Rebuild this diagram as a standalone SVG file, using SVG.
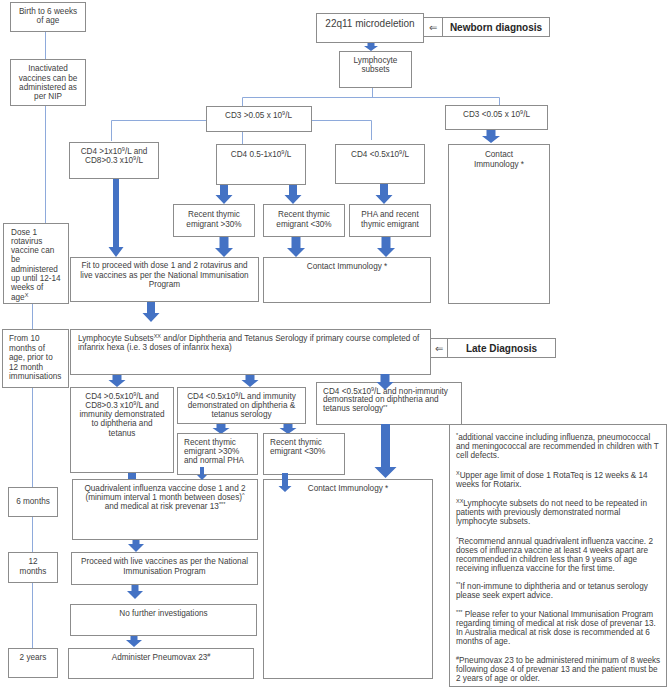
<svg xmlns="http://www.w3.org/2000/svg" width="670" height="688" viewBox="0 0 670 688">
<style>
.box{fill:#fff;stroke:#8c8c8c;stroke-width:1}
.t{font-family:"Liberation Sans",Arial,sans-serif;font-size:8.2px;fill:#404040}
.c{text-anchor:middle}
.h{font-size:10px}
.b{font-weight:bold;fill:#262626}
.ln{stroke:#8eaadb;stroke-width:1;fill:none}
.ar{fill:#4472c4}
.s{font-size:5.5px}
</style>
<rect width="670" height="688" fill="#fff"/>

<g id="connectors">
<path class="ln" d="M45.5,31V59M45.5,105V223M32.5,304V329M32.5,388V487M32.5,516V552M32.5,582V648"/>
<path class="ln" d="M372.5,87V97.5M242.5,97.5H499.5M242.5,97.5V106M499.5,97.5V105"/>
<path class="ln" d="M206,120.5H111.5V141M311,120.5H371.5V140M242.5,131V144"/>
<polygon class="ar" points="367.5,42 374.5,42 374.5,46 378,46 371,51 364,46 367.5,46"/>
<polygon class="ar" points="486.5,129 495.5,129 495.5,136 500,136 491,143 482,136 486.5,136"/>
<polygon class="ar" points="220,184 228,184 228,195 232.5,195 224,204 215.5,195 220,195"/>
<polygon class="ar" points="289,184 297,184 297,195 301.5,195 293,204 284.5,195 289,195"/>
<polygon class="ar" points="380,183 388,183 388,195 392.5,195 384,204 375.5,195 380,195"/>
<polygon class="ar" points="113,178 119,178 119,247 123.5,247 116,257 108.5,247 113,247"/>
<polygon class="ar" points="219.5,236 228.5,236 228.5,248 233,248 224,257 215,248 219.5,248"/>
<polygon class="ar" points="291.5,236 300.5,236 300.5,248 305,248 296,257 287,248 291.5,248"/>
<polygon class="ar" points="381.5,236 390.5,236 390.5,248 395,248 386,257 377,248 381.5,248"/>
<polygon class="ar" points="147,301 155,301 155,313 159.5,313 151,322 142.5,313 147,313"/>
<polygon class="ar" points="112.5,374 121.5,374 121.5,380 125.5,380 117,387 108.5,380 112.5,380"/>
<polygon class="ar" points="245.5,374 254.5,374 254.5,380 258.5,380 250,387 241.5,380 245.5,380"/>
<polygon class="ar" points="216.5,423 225.5,423 225.5,428 229.5,428 221,434 212.5,428 216.5,428"/>
<polygon class="ar" points="283.5,423 292.5,423 292.5,428 296.5,428 288,434 279.5,428 283.5,428"/>
<polygon class="ar" points="128,472 136,472 136,479 140.5,479 132,486 123.5,479 128,479"/>
<polygon class="ar" points="132.5,539 139.5,539 139.5,544 144,544 136,552 128,544 132.5,544"/>
<polygon class="ar" points="131.5,584 138.5,584 138.5,591 143,591 135,599 127,591 131.5,591"/>
<polygon class="ar" points="130.5,635 137.5,635 137.5,640 142,640 134,647 126,640 130.5,640"/>
</g>

<g id="birth"><rect class="box" x="10.5" y="2.5" width="75" height="29"/>
<text class="t c" x="48" y="13.5">Birth to 6 weeks</text><text class="t c" x="48" y="23">of age</text></g>

<g id="inactivated"><rect class="box" x="10.5" y="59.5" width="75" height="46"/>
<text class="t c" x="48" y="71">Inactivated</text><text class="t c" x="48" y="80.5">vaccines can be</text><text class="t c" x="48" y="89.5">administered as</text><text class="t c" x="48" y="98.5">per NIP</text></g>

<g id="dose1"><rect class="box" x="3.5" y="223.5" width="65" height="80"/>
<text class="t" x="11" y="234.5">Dose 1</text><text class="t" x="11" y="243.5">rotavirus</text><text class="t" x="11" y="253">vaccine can</text><text class="t" x="11" y="262">be</text><text class="t" x="11" y="271.5">administered</text><text class="t" x="11" y="281">up until 12-14</text><text class="t" x="11" y="290">weeks of</text><text class="t" x="11" y="299.5">age<tspan class="s" baseline-shift="super">X</tspan></text></g>

<g id="from10"><rect class="box" x="2.5" y="329.5" width="66" height="58"/>
<text class="t" x="9" y="341">From 10</text><text class="t" x="9" y="350.5">months of</text><text class="t" x="9" y="360">age, prior to</text><text class="t" x="9" y="369.5">12 month</text><text class="t" x="9" y="379">immunisations</text></g>

<g id="m6"><rect class="box" x="8.5" y="487.5" width="49" height="29"/>
<text class="t c" x="33" y="504">6 months</text></g>

<g id="m12"><rect class="box" x="8.5" y="552.5" width="49" height="30"/>
<text class="t c" x="33" y="564">12</text><text class="t c" x="33" y="574">months</text></g>

<g id="y2"><rect class="box" x="8.5" y="648.5" width="49" height="29"/>
<text class="t c" x="33" y="660">2 years</text></g>

<g id="microdeletion"><rect class="box" x="316.5" y="13.5" width="107" height="29"/>
<text class="t c h" x="370" y="26.5">22q11 microdeletion</text></g>

<g id="newborn"><rect class="box" x="423.5" y="17.5" width="19" height="19"/>
<text class="t c h" x="433" y="31">⇐</text>
<rect class="box" x="442.5" y="17.5" width="107" height="19"/>
<text class="t c h b" x="496" y="30.5">Newborn diagnosis</text></g>

<g id="lymph"><rect class="box" x="339.5" y="51.5" width="72" height="36"/>
<text class="t c" x="375.5" y="63">Lymphocyte</text><text class="t c" x="375.5" y="72">subsets</text></g>

<g id="cd3hi"><rect class="box" x="206.5" y="106.5" width="105" height="25"/>
<text class="t c" x="258.5" y="117.5">CD3 &gt;0.05 x 10<tspan class="s" baseline-shift="super">9</tspan>/L</text></g>

<g id="cd3lo"><rect class="box" x="445.5" y="105.5" width="102" height="24"/>
<text class="t c" x="496.5" y="117">CD3 &lt;0.05 x 10<tspan class="s" baseline-shift="super">9</tspan>/L</text></g>

<g id="contact1"><rect class="box" x="448.5" y="144.5" width="101" height="159"/>
<text class="t c" x="499" y="157">Contact</text><text class="t c" x="499" y="167">Immunology *</text></g>

<g id="cd4a"><rect class="box" x="69.5" y="142.5" width="89" height="36"/>
<text class="t c" x="114" y="154">CD4 &gt;1x10<tspan class="s" baseline-shift="super">9</tspan>/L and</text><text class="t c" x="114" y="163">CD8&gt;0.3 x10<tspan class="s" baseline-shift="super">9</tspan>/L</text></g>

<g id="cd4b"><rect class="box" x="216.5" y="144.5" width="89" height="40"/>
<text class="t c" x="261" y="157">CD4 0.5-1x10<tspan class="s" baseline-shift="super">9</tspan>/L</text></g>

<g id="cd4c"><rect class="box" x="335.5" y="144.5" width="89" height="39"/>
<text class="t c" x="380" y="157">CD4 &lt;0.5x10<tspan class="s" baseline-shift="super">9</tspan>/L</text></g>

<g id="rte1"><rect class="box" x="173.5" y="204.5" width="81" height="32"/>
<text class="t c" x="214" y="216.5">Recent thymic</text><text class="t c" x="214" y="226.5">emigrant &gt;30%</text></g>

<g id="rte2"><rect class="box" x="263.5" y="204.5" width="81" height="32"/>
<text class="t c" x="304" y="216.5">Recent thymic</text><text class="t c" x="304" y="226.5">emigrant &lt;30%</text></g>

<g id="pha"><rect class="box" x="349.5" y="204.5" width="81" height="32"/>
<text class="t c" x="390" y="216.5">PHA and recent</text><text class="t c" x="390" y="226.5">thymic emigrant</text></g>

<g id="fit"><rect class="box" x="70.5" y="257.5" width="188" height="44"/>
<text class="t c" x="164.5" y="268">Fit to proceed with dose 1 and 2 rotavirus and</text><text class="t c" x="164.5" y="277.5">live vaccines as per the National Immunisation</text><text class="t c" x="164.5" y="287">Program</text></g>

<g id="contact2"><rect class="box" x="263.5" y="257.5" width="167" height="45"/>
<text class="t c" x="347" y="269">Contact Immunology *</text></g>

<g id="lymphlate"><rect class="box" x="70.5" y="329.5" width="360" height="45"/>
<text class="t" x="78" y="341">Lymphocyte Subsets<tspan class="s" baseline-shift="super">XX</tspan> and/or Diphtheria and Tetanus Serology if primary course completed of</text><text class="t" x="78" y="350">infanrix hexa (i.e. 3 doses of infanrix hexa)</text></g>

<g id="late"><rect class="box" x="430.5" y="338.5" width="17" height="19"/>
<text class="t c h" x="439" y="352">⇐</text>
<rect class="box" x="447.5" y="338.5" width="108" height="19"/>
<text class="t c h b" x="501.5" y="351.5">Late Diagnosis</text></g>

<g id="cd4d"><rect class="box" x="70.5" y="387.5" width="103" height="85"/>
<text class="t c" x="122" y="399">CD4 &gt;0.5x10<tspan class="s" baseline-shift="super">9</tspan>/L and</text><text class="t c" x="122" y="408">CD8&gt;0.3 x10<tspan class="s" baseline-shift="super">9</tspan>/L and</text><text class="t c" x="122" y="417">immunity demonstrated</text><text class="t c" x="122" y="426">to diphtheria and</text><text class="t c" x="122" y="435.5">tetanus</text></g>

<g id="cd4e"><rect class="box" x="177.5" y="387.5" width="128" height="36"/>
<text class="t c" x="241.5" y="399">CD4 &lt;0.5x10<tspan class="s" baseline-shift="super">9</tspan>/L and immunity</text><text class="t c" x="241.5" y="408">demonstrated on diphtheria &amp;</text><text class="t c" x="241.5" y="417">tetanus serology</text></g>

<g id="cd4f"><rect class="box" x="316.5" y="382.5" width="145" height="42"/>
<text class="t" x="323" y="393.5">CD4 &lt;0.5x10<tspan class="s" baseline-shift="super">9</tspan>/L and non-immunity</text><text class="t" x="323" y="402">demonstrated on diphtheria and</text><text class="t" x="323" y="411">tetanus serology<tspan class="s" baseline-shift="2">**</tspan></text></g>

<g id="rte3"><rect class="box" x="177.5" y="433.5" width="80" height="41"/>
<text class="t" x="184" y="445">Recent thymic</text><text class="t" x="184" y="454">emigrant &gt;30%</text><text class="t" x="184" y="463">and normal PHA</text></g>

<g id="rte4"><rect class="box" x="263.5" y="433.5" width="81" height="41"/>
<text class="t" x="270" y="445">Recent thymic</text><text class="t" x="270" y="454">emigrant &lt;30%</text></g>

<g id="quad"><rect class="box" x="72.5" y="479.5" width="185" height="60"/>
<text class="t c" x="165" y="491">Quadrivalent influenza vaccine dose 1 and 2</text><text class="t c" x="165" y="500">(minimum interval 1 month between doses)<tspan class="s" baseline-shift="super">^</tspan></text><text class="t c" x="165" y="509">and medical at risk prevenar 13<tspan class="s" baseline-shift="super">***</tspan></text></g>

<g id="contact3"><rect class="box" x="263.5" y="479.5" width="169" height="199"/>
<text class="t c" x="348" y="491">Contact Immunology *</text></g>

<g id="proceed"><rect class="box" x="71.5" y="552.5" width="186" height="32"/>
<text class="t c" x="164.5" y="564">Proceed with live vaccines as per the National</text><text class="t c" x="164.5" y="574">Immunisation Program</text></g>

<g id="nofurther"><rect class="box" x="70.5" y="604.5" width="186" height="31"/>
<text class="t c" x="163.5" y="616">No further investigations</text></g>

<g id="pneumovax"><rect class="box" x="68.5" y="648.5" width="185" height="30"/>
<text class="t c" x="161" y="660">Administer Pneumovax 23<tspan class="s" baseline-shift="super">#</tspan></text></g>

<g id="arrow-late"><polygon class="ar" points="380.5,374 389.5,374 389.5,382 393.5,382 385,390 376.5,382 380.5,382"/>
<polygon class="ar" points="200,467 204,467 204,475 207,475 202,480 197,475 200,475"/>
<polygon class="ar" points="282,473 288,473 288,486 291.5,486 285,492 278.5,486 282,486"/>
<polygon class="ar" points="381,424 390,424 390,467 396.5,467 385.5,478 374.5,467 381,467"/></g>

<g id="footnotes"><rect class="box" x="449.5" y="424.5" width="217" height="262"/>
<text class="t" x="456" y="440"><tspan class="s" baseline-shift="super">*</tspan>additional vaccine including influenza, pneumococcal</text>
<text class="t" x="456" y="449">and meningococcal are recommended in children with T</text>
<text class="t" x="456" y="458">cell defects.</text>
<text class="t" x="456" y="477.5"><tspan class="s" baseline-shift="super">X</tspan>Upper age limit of dose 1 RotaTeq is 12 weeks &amp; 14</text>
<text class="t" x="456" y="486.5">weeks for Rotarix.</text>
<text class="t" x="456" y="506"><tspan class="s" baseline-shift="super">XX</tspan>Lymphocyte subsets do not need to be repeated in</text>
<text class="t" x="456" y="515">patients with previously demonstrated normal</text>
<text class="t" x="456" y="524">lymphocyte subsets.</text>
<text class="t" x="456" y="543.5"><tspan class="s" baseline-shift="super">^</tspan>Recommend annual quadrivalent influenza vaccine. 2</text>
<text class="t" x="456" y="552.5">doses of influenza vaccine at least 4 weeks apart are</text>
<text class="t" x="456" y="561.5">recommended in children less than 9 years of age</text>
<text class="t" x="456" y="570.5">receiving influenza vaccine for the first time.</text>
<text class="t" x="456" y="589"><tspan class="s" baseline-shift="super">**</tspan>If non-immune to diphtheria and or tetanus serology</text>
<text class="t" x="456" y="598">please seek expert advice.</text>
<text class="t" x="456" y="616.5"><tspan class="s" baseline-shift="super">***</tspan> Please refer to your National Immunisation Program</text>
<text class="t" x="456" y="625.5">regarding timing of medical at risk dose of prevenar 13.</text>
<text class="t" x="456" y="634.5">In Australia medical at risk dose is recommended at 6</text>
<text class="t" x="456" y="643.5">months of age.</text>
<text class="t" x="456" y="663"><tspan class="s" baseline-shift="super">#</tspan>Pneumovax 23 to be administered minimum of 8 weeks</text>
<text class="t" x="456" y="672">following dose 4 of prevenar 13 and the patient must be</text>
<text class="t" x="456" y="681">2 years of age or older.</text></g>
</svg>
